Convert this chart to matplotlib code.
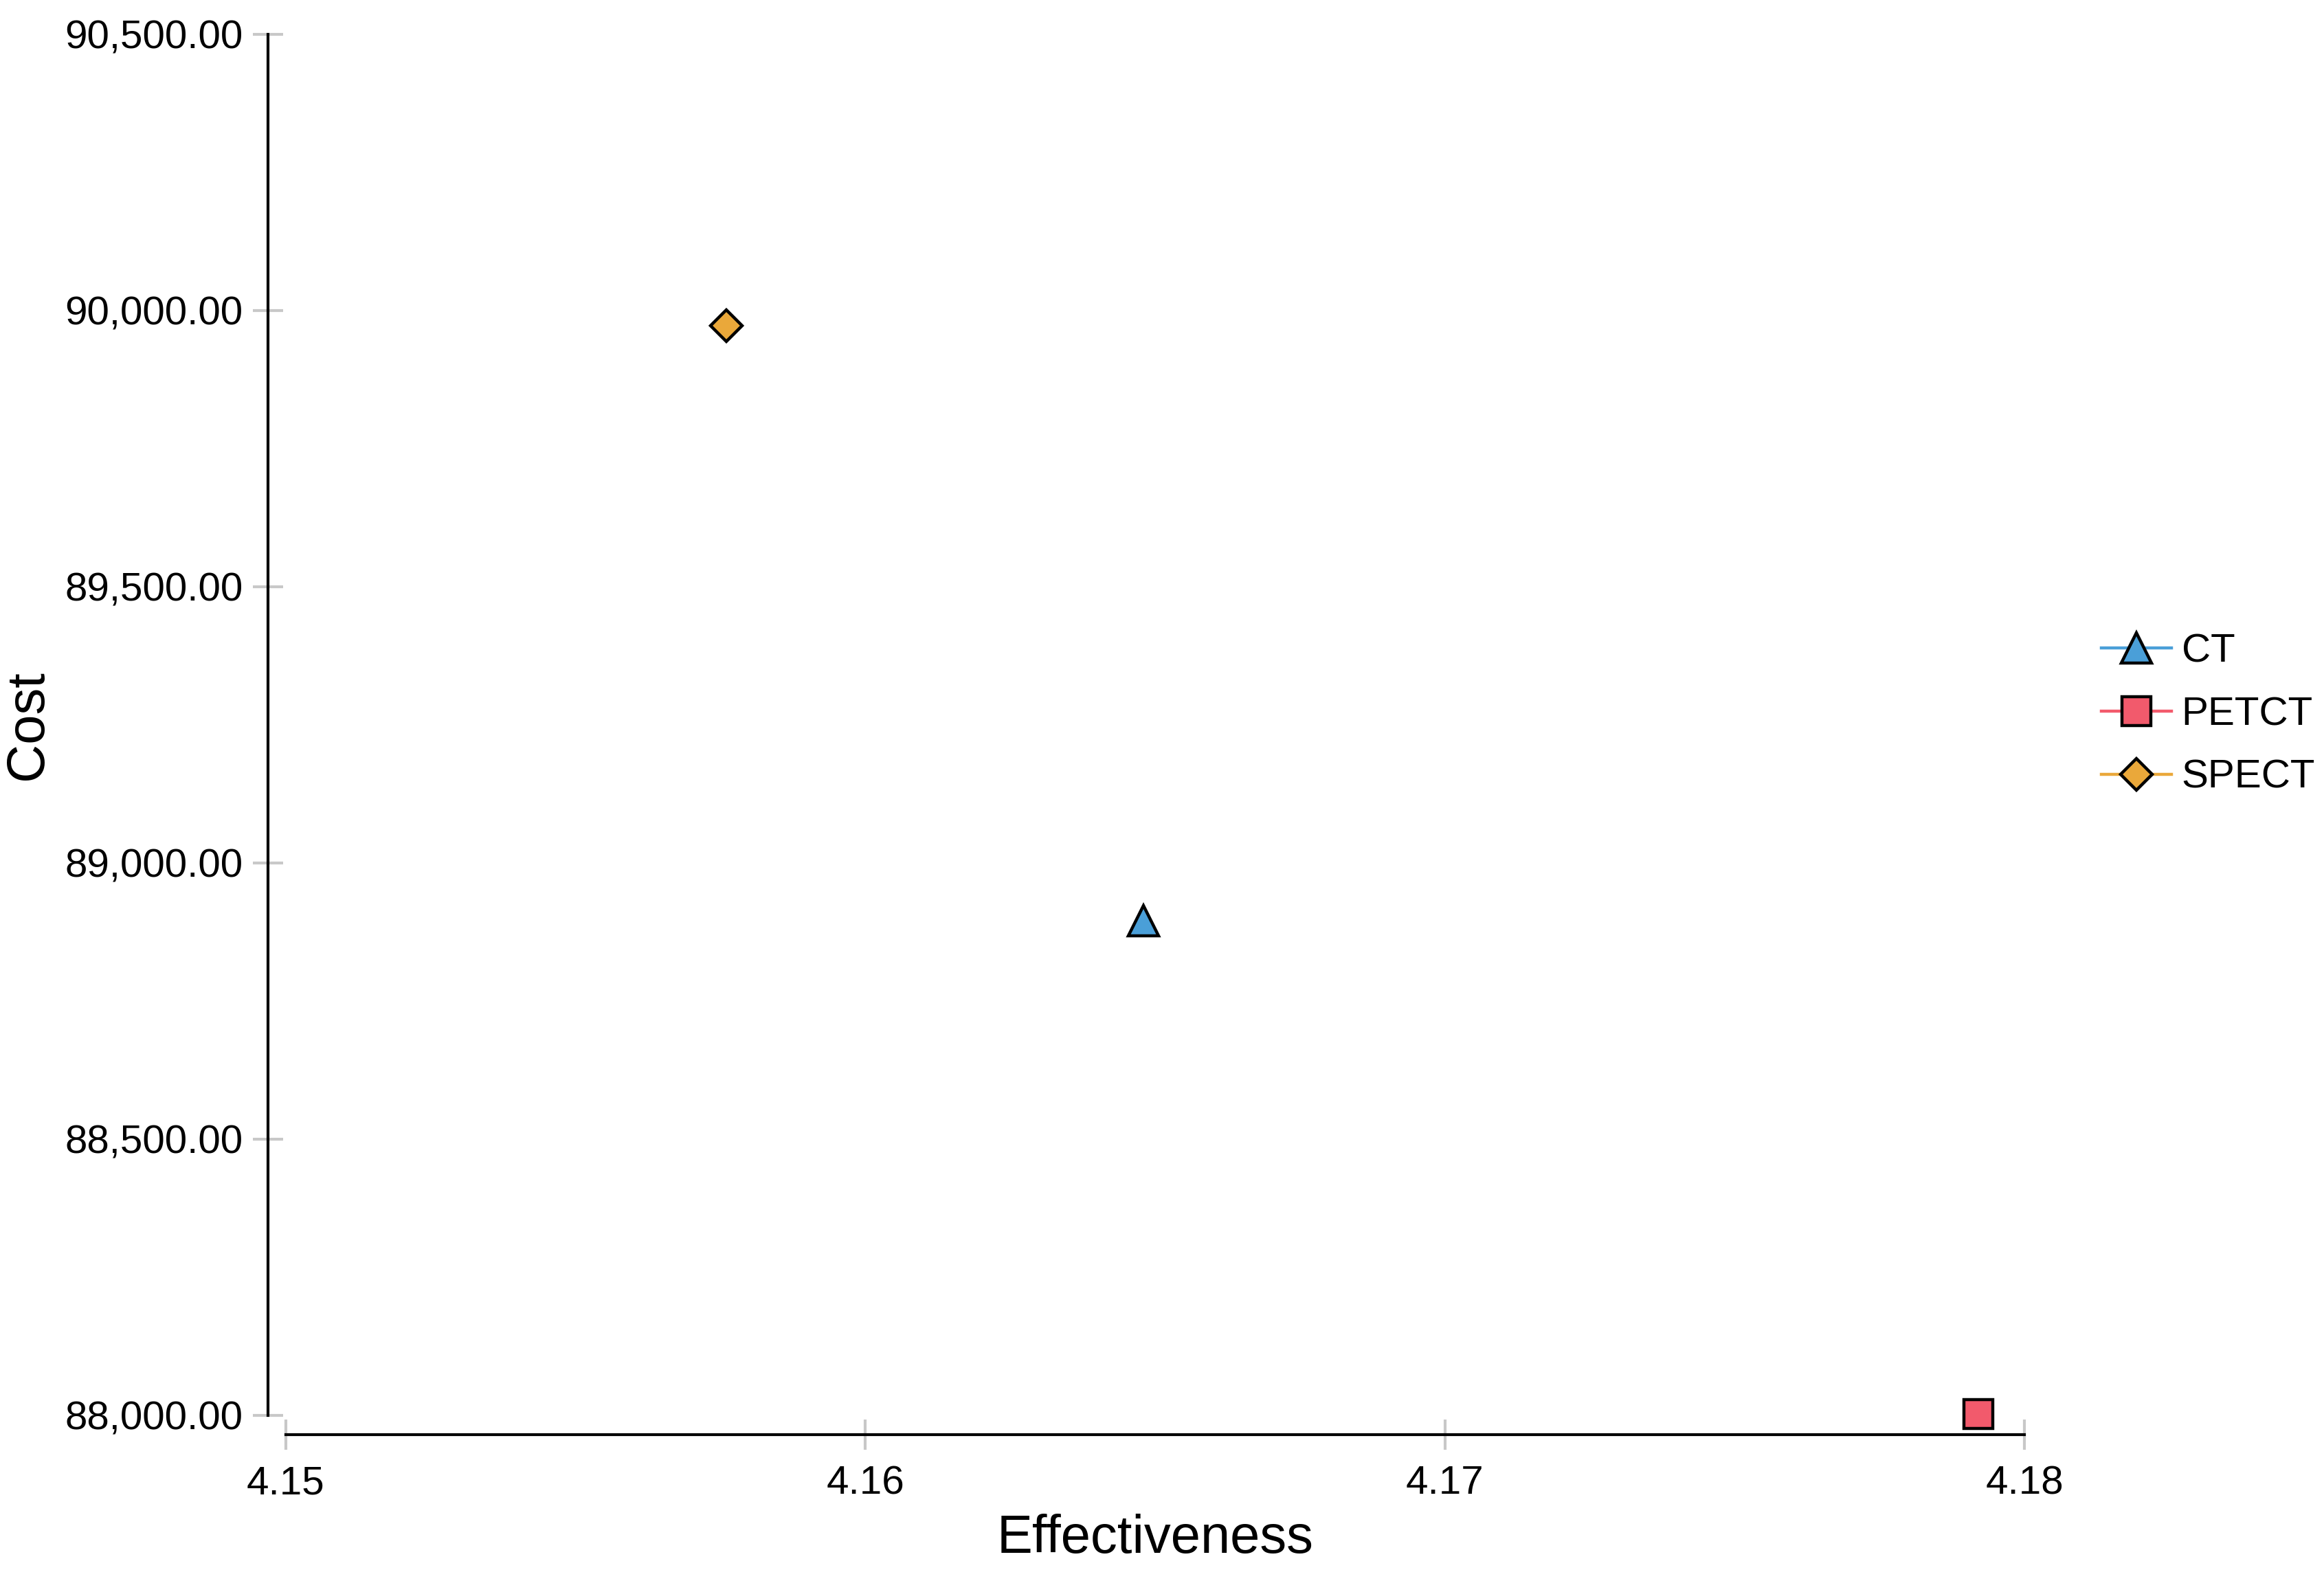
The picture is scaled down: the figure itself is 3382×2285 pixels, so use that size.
import numpy as np
import matplotlib.pyplot as plt
from matplotlib.ticker import FuncFormatter

plt.rcParams['font.family'] = ['Liberation Sans', 'DejaVu Sans']

# data
strategies = ["CT", "PETCT", "SPECT"]
effectiveness = [4.1648, 4.1792, 4.1576]
cost = [88895.0, 88002.0, 89973.0]
colors = ["#4A9FD8", "#F25A6C", "#EAA83A"]
markers = ["^", "s", "D"]
msizes = [16, 15, 11.5]

xticks = [4.15, 4.16, 4.17, 4.18]
yticks = [88000, 88500, 89000, 89500, 90000, 90500]

fig = plt.figure(figsize=(3382/200, 2285/200), dpi=200)
ax = fig.add_axes([416/3382, 1-2060/2285, (2946-416)/3382, (2060-50)/2285])

for name, x, y, c, m, ms in zip(strategies, effectiveness, cost, colors, markers, msizes):
	ax.plot([x], [y], marker=m, markersize=ms, color=c, markerfacecolor=c,
		markeredgecolor="black", markeredgewidth=1.6, lw=1.6, label=name, clip_on=False, zorder=5)

ax.set_xlim(4.15, 4.18)
ax.set_ylim(88000, 90500)
ax.set_xticks(xticks)
ax.set_yticks(yticks)
ax.xaxis.set_major_formatter(FuncFormatter(lambda v, p: "{:.2f}".format(v)))
ax.yaxis.set_major_formatter(FuncFormatter(lambda v, p: "{:,.2f}".format(v)))

for s in ["top", "right"]:
	ax.spines[s].set_visible(False)
ax.spines["left"].set_position(("outward", 9.5))
ax.spines["bottom"].set_position(("outward", 10))
for s in ["left", "bottom"]:
	ax.spines[s].set_linewidth(1.5)
	ax.spines[s].set_color("black")

ax.tick_params(direction="inout", length=16, width=1.5, color="#c8c8c8", labelsize=21, pad=5)
ax.tick_params(axis="x", pad=8)

ax.set_xlabel("Effectiveness", fontsize=28, labelpad=6)
ax.set_ylabel("Cost", fontsize=28)
ax.yaxis.set_label_coords(-0.134, 0.5)

leg = ax.legend(loc="center left", bbox_to_anchor=(3058/3382, 1-1040/2285), bbox_transform=fig.transFigure,
	frameon=False, fontsize=21, handlelength=1.75, handletextpad=0.25, labelspacing=0.65,
	borderpad=0, borderaxespad=0)

plt.savefig("out.png", dpi=200)
